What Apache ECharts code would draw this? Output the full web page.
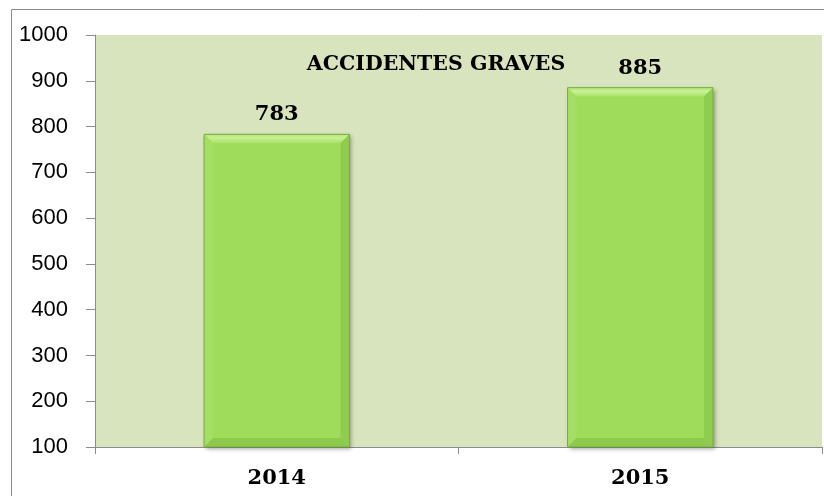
<!DOCTYPE html>
<html>
<head>
<meta charset="utf-8">
<script src="https://cdn.jsdelivr.net/npm/echarts@6/dist/echarts.min.js"></script>
<style>
  html, body { margin: 0; padding: 0; background: #fff; }
  #chart { width: 824px; height: 496px; }
</style>
</head>
<body>
<div id="chart"></div>
<script>
const categories = ['2014', '2015'];
const accidentes = [783, 885];
const yMin = 100;
const yMax = 1000;
const yStep = 100;
const chartTitle = 'ACCIDENTES GRAVES';

const chart = echarts.init(document.getElementById('chart'));

// bar with bevelled edges, drawn from the axis coordinates
function renderBevelBar(params, api) {
  const top = api.coord([api.value(0), api.value(1)]);
  const base = api.coord([api.value(0), yMin]);
  const bw = api.size([1, 0])[0] * 0.4;
  const x0 = top[0] - bw / 2, x1 = top[0] + bw / 2;
  const y0 = top[1], y1 = base[1];
  const b = 9;
  return {
    type: 'group',
    children: [
      {
        type: 'rect',
        shape: { x: x0, y: y0, width: bw, height: y1 - y0 },
        style: { fill: '#9fdc5b', shadowColor: 'rgba(0,0,0,0.35)', shadowBlur: 4, shadowOffsetX: 2, shadowOffsetY: 2 }
      },
      {
        type: 'polygon',
        shape: { points: [[x0, y0], [x1, y0], [x1 - b, y0 + b], [x0 + b, y0 + b]] },
        style: {
          fill: new echarts.graphic.LinearGradient(0, 0, 0, 1, [
            { offset: 0, color: '#b4e676' },
            { offset: 0.4, color: '#c8f195' },
            { offset: 1, color: '#a8e066' }
          ])
        }
      },
      {
        type: 'polygon',
        shape: { points: [[x0, y0], [x0 + b, y0 + b], [x0 + b, y1 - b], [x0, y1]] },
        style: { fill: '#a4de62' }
      },
      {
        type: 'polygon',
        shape: { points: [[x1, y0], [x1, y1], [x1 - b, y1 - b], [x1 - b, y0 + b]] },
        style: { fill: '#8fcd4e' }
      },
      {
        type: 'polygon',
        shape: { points: [[x0, y1], [x1, y1], [x1 - b, y1 - b], [x0 + b, y1 - b]] },
        style: { fill: '#8dca4c' }
      },
      {
        type: 'rect',
        shape: { x: x0, y: y0, width: bw, height: y1 - y0 },
        style: { fill: null, stroke: '#79ad44', lineWidth: 1 }
      },
      {
        type: 'text',
        style: {
          text: String(api.value(1)),
          x: top[0],
          y: y0 - 9,
          align: 'center',
          verticalAlign: 'bottom',
          fill: '#000',
          font: 'bold 21px "DejaVu Serif"'
        }
      }
    ]
  };
}

chart.setOption({
  backgroundColor: '#fff',
  animation: false,
  grid: {
    left: 95,
    right: 2,
    top: 35,
    bottom: 49,
    show: true,
    backgroundColor: '#d8e4bd',
    borderWidth: 0
  },
  graphic: [
    {
      type: 'rect',
      shape: { x: 11.5, y: 9.5, width: 900, height: 600 },
      style: { fill: null, stroke: '#8a8a8a', lineWidth: 1 },
      silent: true
    },
    {
      type: 'text',
      x: 436,
      y: 65,
      style: {
        text: chartTitle,
        align: 'center',
        verticalAlign: 'middle',
        fill: '#000',
        font: 'bold 20.5px "DejaVu Serif"'
      }
    }
  ],
  xAxis: {
    type: 'category',
    data: categories,
    boundaryGap: true,
    axisLine: { lineStyle: { color: '#8c8c8c', width: 1 } },
    axisTick: { show: true, length: 7, lineStyle: { color: '#8c8c8c' } },
    axisLabel: {
      color: '#000',
      fontFamily: 'DejaVu Serif',
      fontWeight: 'bold',
      fontSize: 21,
      margin: 21
    }
  },
  yAxis: {
    type: 'value',
    min: yMin,
    max: yMax,
    interval: yStep,
    axisLine: { show: true, lineStyle: { color: '#8c8c8c', width: 1 } },
    axisTick: { show: true, length: 9, lineStyle: { color: '#8c8c8c' } },
    splitLine: { show: false },
    axisLabel: {
      color: '#000',
      fontFamily: 'Liberation Sans',
      fontSize: 22,
      margin: 27,
      formatter: (v) => String(v)
    }
  },
  series: [
    {
      type: 'custom',
      renderItem: renderBevelBar,
      encode: { x: 0, y: 1 },
      data: categories.map((c, i) => [i, accidentes[i]])
    }
  ]
});
</script>
</body>
</html>
